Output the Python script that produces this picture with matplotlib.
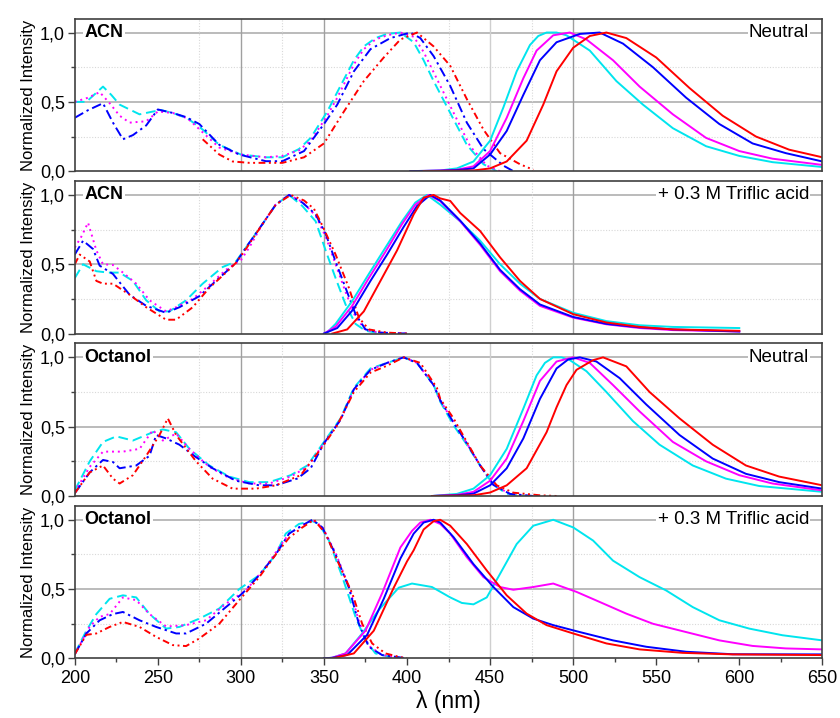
import matplotlib.pyplot as plt
from matplotlib.ticker import MultipleLocator, FuncFormatter

plt.rcParams['font.family'] = ['Liberation Sans', 'DejaVu Sans']

CYAN = '#00e5ee'
MAGENTA = '#ff00ff'
BLUE = '#0000ff'
RED = '#ff0000'

# ---- panel 1: ACN, neutral ----
acn_neu_abs_cyan_x = [200, 207, 217, 222, 227, 239, 247, 252, 259, 268, 277, 287, 300, 315, 325, 335, 342, 352, 358, 368, 374, 381, 388, 396, 404, 410, 416, 426, 436, 446, 454]
acn_neu_abs_cyan_y = [0.50, 0.50, 0.61, 0.55, 0.48, 0.41, 0.43, 0.44, 0.42, 0.38, 0.30, 0.19, 0.12, 0.10, 0.10, 0.16, 0.24, 0.43, 0.57, 0.80, 0.90, 0.96, 0.99, 1.0, 0.93, 0.80, 0.65, 0.42, 0.19, 0.05, 0.0]
acn_neu_abs_magenta_x = [200, 208, 215, 221, 227, 233, 243, 250, 259, 268, 277, 287, 300, 315, 325, 335, 342, 352, 358, 368, 374, 381, 388, 396, 404, 410, 426, 438, 448, 456]
acn_neu_abs_magenta_y = [0.50, 0.53, 0.57, 0.49, 0.40, 0.35, 0.36, 0.43, 0.42, 0.38, 0.28, 0.17, 0.12, 0.10, 0.11, 0.15, 0.22, 0.40, 0.53, 0.77, 0.88, 0.95, 0.98, 1.0, 0.97, 0.86, 0.47, 0.18, 0.04, 0.0]
acn_neu_abs_blue_x = [200, 208, 217, 223, 229, 235, 243, 250, 259, 267, 275, 287, 299, 315, 325, 338, 350, 358, 368, 378, 390, 402, 408, 416, 426, 436, 446, 458, 464]
acn_neu_abs_blue_y = [0.385, 0.44, 0.49, 0.35, 0.23, 0.26, 0.33, 0.445, 0.42, 0.39, 0.34, 0.19, 0.12, 0.072, 0.072, 0.145, 0.34, 0.48, 0.72, 0.88, 0.96, 1.0, 0.96, 0.83, 0.615, 0.35, 0.16, 0.04, 0.0]
acn_neu_abs_red_x = [277, 287, 295, 305, 325, 338, 350, 362, 374, 386, 396, 406, 416, 426, 436, 446, 456, 468, 476]
acn_neu_abs_red_y = [0.23, 0.12, 0.07, 0.06, 0.06, 0.10, 0.20, 0.43, 0.65, 0.82, 0.95, 1.0, 0.90, 0.76, 0.52, 0.30, 0.13, 0.05, 0.01]

acn_neu_em_cyan_x = [402, 420, 430, 440, 450, 458, 466, 474, 479, 484, 490, 496, 510, 526, 542, 560, 580, 600, 620, 650]
acn_neu_em_cyan_y = [0.0, 0.005, 0.02, 0.07, 0.22, 0.46, 0.72, 0.91, 0.975, 1.0, 1.0, 0.98, 0.87, 0.65, 0.48, 0.31, 0.18, 0.11, 0.065, 0.03]
acn_neu_em_magenta_x = [402, 420, 430, 440, 450, 460, 470, 478, 488, 498, 508, 524, 540, 560, 580, 600, 620, 650]
acn_neu_em_magenta_y = [0.0, 0.005, 0.01, 0.035, 0.145, 0.385, 0.67, 0.87, 0.98, 1.0, 0.95, 0.80, 0.61, 0.41, 0.24, 0.145, 0.09, 0.045]
acn_neu_em_blue_x = [402, 420, 430, 440, 450, 460, 470, 480, 490, 504, 516, 530, 548, 568, 588, 608, 628, 650]
acn_neu_em_blue_y = [0.0, 0.003, 0.008, 0.02, 0.12, 0.29, 0.55, 0.80, 0.93, 0.99, 1.0, 0.92, 0.75, 0.53, 0.34, 0.20, 0.13, 0.07]
acn_neu_em_red_x = [410, 440, 450, 460, 472, 482, 490, 500, 510, 520, 532, 550, 570, 590, 610, 630, 650]
acn_neu_em_red_y = [0.0, 0.005, 0.02, 0.07, 0.22, 0.48, 0.72, 0.89, 0.975, 1.0, 0.96, 0.82, 0.60, 0.40, 0.25, 0.155, 0.10]

# ---- panel 2: ACN + 0.3 M triflic acid ----
acn_acid_abs_cyan_x = [200, 205, 213, 220, 227, 235, 243, 251, 257, 267, 277, 289, 297, 303, 313, 321, 329, 337, 345, 351, 357, 363, 369, 375, 385]
acn_acid_abs_cyan_y = [0.40, 0.50, 0.45, 0.44, 0.44, 0.38, 0.24, 0.16, 0.16, 0.24, 0.36, 0.48, 0.52, 0.62, 0.79, 0.93, 1.0, 0.92, 0.81, 0.60, 0.40, 0.21, 0.07, 0.02, 0.0]
acn_acid_abs_magenta_x = [200, 204, 208, 213, 217, 223, 229, 237, 245, 255, 261, 271, 281, 291, 300, 305, 313, 321, 329, 337, 345, 351, 357, 363, 369, 375, 385, 400]
acn_acid_abs_magenta_y = [0.62, 0.70, 0.80, 0.60, 0.50, 0.495, 0.44, 0.36, 0.24, 0.16, 0.19, 0.25, 0.35, 0.46, 0.53, 0.62, 0.79, 0.93, 1.0, 0.95, 0.85, 0.70, 0.50, 0.30, 0.12, 0.025, 0.005, 0.0]
acn_acid_abs_blue_x = [200, 205, 211, 215, 223, 233, 243, 255, 263, 275, 285, 297, 303, 313, 321, 329, 337, 345, 351, 357, 363, 369, 375, 384, 400]
acn_acid_abs_blue_y = [0.57, 0.67, 0.61, 0.49, 0.43, 0.28, 0.20, 0.15, 0.19, 0.27, 0.38, 0.51, 0.62, 0.79, 0.93, 1.0, 0.945, 0.86, 0.72, 0.52, 0.33, 0.14, 0.03, 0.007, 0.0]
acn_acid_abs_red_x = [200, 203, 209, 213, 217, 223, 233, 243, 255, 261, 271, 281, 291, 297, 303, 313, 321, 330, 338, 344, 349, 357, 365, 371, 377, 388, 400]
acn_acid_abs_red_y = [0.50, 0.57, 0.52, 0.38, 0.36, 0.36, 0.28, 0.19, 0.10, 0.10, 0.19, 0.33, 0.44, 0.51, 0.61, 0.79, 0.93, 1.0, 0.96, 0.90, 0.78, 0.57, 0.33, 0.115, 0.03, 0.007, 0.0]

acn_acid_em_cyan_x = [350, 352, 357, 367, 377, 387, 397, 405, 412, 420, 432, 444, 456, 468, 480, 500, 520, 540, 560, 600]
acn_acid_em_cyan_y = [0.0, 0.01, 0.07, 0.235, 0.43, 0.62, 0.81, 0.945, 1.0, 0.93, 0.81, 0.67, 0.50, 0.36, 0.25, 0.15, 0.09, 0.06, 0.048, 0.04]
acn_acid_em_magenta_x = [350, 357, 367, 377, 387, 397, 405, 413, 420, 432, 444, 456, 468, 480, 500, 520, 540, 560, 600]
acn_acid_em_magenta_y = [0.0, 0.05, 0.20, 0.40, 0.59, 0.79, 0.93, 1.0, 0.955, 0.81, 0.64, 0.45, 0.31, 0.20, 0.115, 0.067, 0.04, 0.025, 0.015]
acn_acid_em_blue_x = [350, 358, 368, 378, 388, 398, 406, 414, 420, 432, 444, 456, 468, 480, 500, 520, 540, 560, 600]
acn_acid_em_blue_y = [0.0, 0.04, 0.18, 0.38, 0.57, 0.77, 0.92, 1.0, 0.96, 0.815, 0.65, 0.46, 0.32, 0.21, 0.12, 0.07, 0.045, 0.03, 0.015]
acn_acid_em_red_x = [355, 364, 374, 384, 394, 404, 410, 416, 420, 426, 432, 444, 456, 468, 480, 500, 520, 540, 560, 600]
acn_acid_em_red_y = [0.0, 0.03, 0.16, 0.38, 0.60, 0.86, 0.98, 1.0, 0.975, 0.957, 0.87, 0.74, 0.55, 0.38, 0.25, 0.14, 0.08, 0.048, 0.03, 0.02]

# ---- panel 3: octanol, neutral ----
oct_neu_abs_cyan_x = [200, 209, 217, 225, 235, 247, 253, 261, 269, 281, 293, 305, 317, 330, 340, 350, 360, 368, 378, 388, 398, 406, 416, 420, 428, 436, 444, 452, 460, 472]
oct_neu_abs_cyan_y = [0.04, 0.25, 0.39, 0.43, 0.40, 0.46, 0.48, 0.46, 0.34, 0.22, 0.14, 0.10, 0.10, 0.15, 0.22, 0.39, 0.56, 0.78, 0.92, 0.96, 1.0, 0.96, 0.80, 0.68, 0.51, 0.37, 0.22, 0.08, 0.017, 0.0]
oct_neu_abs_magenta_x = [200, 209, 217, 229, 239, 247, 253, 261, 269, 281, 293, 305, 317, 330, 340, 350, 360, 368, 378, 388, 398, 406, 416, 420, 428, 436, 444, 452, 462, 474]
oct_neu_abs_magenta_y = [0.03, 0.21, 0.32, 0.32, 0.34, 0.475, 0.40, 0.45, 0.34, 0.21, 0.13, 0.09, 0.09, 0.14, 0.21, 0.38, 0.55, 0.77, 0.91, 0.96, 1.0, 0.96, 0.80, 0.69, 0.53, 0.38, 0.22, 0.08, 0.015, 0.0]
oct_neu_abs_blue_x = [200, 209, 217, 223, 227, 237, 245, 249, 255, 263, 273, 283, 297, 311, 321, 334, 342, 350, 360, 368, 378, 388, 398, 406, 416, 420, 428, 436, 444, 452, 462, 476]
oct_neu_abs_blue_y = [0.02, 0.17, 0.26, 0.245, 0.20, 0.22, 0.29, 0.44, 0.415, 0.37, 0.28, 0.20, 0.11, 0.077, 0.077, 0.126, 0.20, 0.38, 0.55, 0.77, 0.91, 0.96, 1.0, 0.96, 0.80, 0.69, 0.53, 0.38, 0.22, 0.08, 0.015, 0.0]
oct_neu_abs_red_x = [200, 209, 217, 223, 227, 235, 243, 251, 256, 261, 273, 283, 295, 309, 321, 336, 350, 358, 368, 378, 388, 398, 408, 418, 420, 428, 436, 444, 454, 464, 480, 490]
oct_neu_abs_red_y = [0.02, 0.17, 0.22, 0.125, 0.09, 0.15, 0.29, 0.44, 0.56, 0.44, 0.25, 0.125, 0.053, 0.053, 0.077, 0.15, 0.37, 0.51, 0.75, 0.89, 0.94, 1.0, 0.96, 0.78, 0.70, 0.56, 0.39, 0.22, 0.077, 0.024, 0.005, 0.0]

oct_neu_em_cyan_x = [415, 430, 440, 450, 460, 470, 478, 483, 488, 493, 498, 508, 520, 536, 552, 572, 592, 612, 650]
oct_neu_em_cyan_y = [0.0, 0.015, 0.053, 0.15, 0.34, 0.63, 0.87, 0.96, 1.0, 1.0, 0.98, 0.90, 0.75, 0.54, 0.37, 0.22, 0.125, 0.072, 0.03]
oct_neu_em_magenta_x = [415, 430, 440, 450, 460, 470, 480, 490, 500, 510, 524, 540, 560, 580, 600, 620, 650]
oct_neu_em_magenta_y = [0.0, 0.008, 0.03, 0.11, 0.27, 0.54, 0.83, 0.97, 1.0, 0.96, 0.80, 0.61, 0.39, 0.25, 0.15, 0.09, 0.04]
oct_neu_em_blue_x = [415, 430, 440, 450, 460, 470, 480, 490, 497, 504, 514, 528, 544, 564, 584, 604, 624, 650]
oct_neu_em_blue_y = [0.0, 0.005, 0.017, 0.077, 0.20, 0.415, 0.70, 0.92, 0.985, 1.0, 0.97, 0.85, 0.66, 0.44, 0.27, 0.16, 0.10, 0.053]
oct_neu_em_red_x = [415, 440, 450, 460, 472, 484, 490, 496, 502, 512, 518, 532, 546, 564, 584, 604, 624, 650]
oct_neu_em_red_y = [0.0, 0.005, 0.025, 0.077, 0.20, 0.46, 0.64, 0.80, 0.91, 0.98, 1.0, 0.935, 0.75, 0.56, 0.37, 0.22, 0.14, 0.077]

# ---- panel 4: octanol + 0.3 M triflic acid ----
oct_acid_abs_cyan_x = [200, 207, 213, 221, 229, 237, 245, 255, 263, 275, 287, 299, 311, 321, 327, 335, 343, 347, 353, 361, 369, 375, 381, 390, 395]
oct_acid_abs_cyan_y = [0.036, 0.20, 0.32, 0.43, 0.455, 0.44, 0.32, 0.215, 0.227, 0.287, 0.36, 0.50, 0.60, 0.75, 0.90, 0.97, 0.99, 0.97, 0.85, 0.59, 0.30, 0.13, 0.036, 0.01, 0.0]
oct_acid_abs_magenta_x = [200, 209, 215, 221, 229, 237, 245, 255, 267, 279, 291, 303, 315, 323, 329, 337, 343, 349, 357, 365, 371, 377, 385, 396, 400]
oct_acid_abs_magenta_y = [0.03, 0.23, 0.30, 0.32, 0.44, 0.42, 0.32, 0.23, 0.24, 0.275, 0.395, 0.49, 0.66, 0.80, 0.90, 0.96, 1.0, 0.95, 0.76, 0.52, 0.27, 0.09, 0.025, 0.005, 0.0]
oct_acid_abs_blue_x = [200, 207, 215, 223, 229, 239, 249, 261, 267, 279, 291, 301, 311, 321, 329, 337, 343, 349, 357, 365, 371, 377, 385, 396, 400]
oct_acid_abs_blue_y = [0.03, 0.18, 0.275, 0.32, 0.335, 0.275, 0.227, 0.18, 0.18, 0.25, 0.37, 0.47, 0.60, 0.75, 0.90, 0.96, 1.0, 0.945, 0.75, 0.51, 0.25, 0.084, 0.024, 0.007, 0.0]
oct_acid_abs_red_x = [200, 207, 213, 221, 229, 239, 249, 259, 267, 275, 287, 299, 311, 321, 329, 337, 344, 351, 359, 367, 373, 379, 387, 395, 400]
oct_acid_abs_red_y = [0.03, 0.17, 0.18, 0.227, 0.263, 0.227, 0.155, 0.096, 0.089, 0.144, 0.25, 0.42, 0.586, 0.75, 0.87, 0.945, 1.0, 0.90, 0.68, 0.47, 0.25, 0.108, 0.036, 0.012, 0.0]

oct_acid_em_cyan_x = [350, 355, 363, 373, 383, 395, 403, 415, 426, 433, 440, 448, 456, 466, 476, 488, 500, 512, 524, 540, 556, 572, 588, 606, 626, 650]
oct_acid_em_cyan_y = [0.0, 0.005, 0.036, 0.18, 0.35, 0.51, 0.54, 0.515, 0.44, 0.40, 0.39, 0.44, 0.61, 0.825, 0.957, 1.0, 0.945, 0.85, 0.705, 0.586, 0.49, 0.37, 0.275, 0.215, 0.167, 0.13]
oct_acid_em_magenta_x = [350, 355, 363, 375, 385, 396, 403, 408, 414, 420, 426, 436, 446, 456, 464, 476, 488, 502, 516, 532, 548, 568, 588, 608, 628, 650]
oct_acid_em_magenta_y = [0.0, 0.005, 0.036, 0.20, 0.47, 0.80, 0.92, 0.98, 1.0, 0.97, 0.90, 0.73, 0.586, 0.515, 0.495, 0.515, 0.54, 0.48, 0.407, 0.323, 0.25, 0.19, 0.13, 0.09, 0.072, 0.065]
oct_acid_em_blue_x = [350, 355, 364, 376, 386, 396, 404, 410, 416, 420, 428, 440, 452, 464, 476, 488, 504, 524, 544, 568, 596, 650]
oct_acid_em_blue_y = [0.0, 0.004, 0.025, 0.17, 0.43, 0.72, 0.90, 0.98, 1.0, 0.98, 0.875, 0.68, 0.515, 0.37, 0.287, 0.24, 0.19, 0.13, 0.084, 0.048, 0.03, 0.029]
oct_acid_em_red_x = [355, 368, 380, 392, 400, 404, 410, 416, 420, 426, 436, 448, 460, 472, 484, 500, 520, 540, 566, 596, 650]
oct_acid_em_red_y = [0.0, 0.036, 0.20, 0.51, 0.70, 0.78, 0.93, 0.99, 1.0, 0.957, 0.825, 0.634, 0.455, 0.323, 0.24, 0.18, 0.108, 0.065, 0.04, 0.029, 0.024]

solvents = ['ACN', 'ACN', 'Octanol', 'Octanol']
conditions = ['Neutral', '+ 0.3 M Triflic acid', 'Neutral', '+ 0.3 M Triflic acid']

abs_data = [
    [(acn_neu_abs_cyan_x, acn_neu_abs_cyan_y), (acn_neu_abs_magenta_x, acn_neu_abs_magenta_y),
     (acn_neu_abs_blue_x, acn_neu_abs_blue_y), (acn_neu_abs_red_x, acn_neu_abs_red_y)],
    [(acn_acid_abs_cyan_x, acn_acid_abs_cyan_y), (acn_acid_abs_magenta_x, acn_acid_abs_magenta_y),
     (acn_acid_abs_blue_x, acn_acid_abs_blue_y), (acn_acid_abs_red_x, acn_acid_abs_red_y)],
    [(oct_neu_abs_cyan_x, oct_neu_abs_cyan_y), (oct_neu_abs_magenta_x, oct_neu_abs_magenta_y),
     (oct_neu_abs_blue_x, oct_neu_abs_blue_y), (oct_neu_abs_red_x, oct_neu_abs_red_y)],
    [(oct_acid_abs_cyan_x, oct_acid_abs_cyan_y), (oct_acid_abs_magenta_x, oct_acid_abs_magenta_y),
     (oct_acid_abs_blue_x, oct_acid_abs_blue_y), (oct_acid_abs_red_x, oct_acid_abs_red_y)],
]
em_data = [
    [(acn_neu_em_cyan_x, acn_neu_em_cyan_y), (acn_neu_em_magenta_x, acn_neu_em_magenta_y),
     (acn_neu_em_blue_x, acn_neu_em_blue_y), (acn_neu_em_red_x, acn_neu_em_red_y)],
    [(acn_acid_em_cyan_x, acn_acid_em_cyan_y), (acn_acid_em_magenta_x, acn_acid_em_magenta_y),
     (acn_acid_em_blue_x, acn_acid_em_blue_y), (acn_acid_em_red_x, acn_acid_em_red_y)],
    [(oct_neu_em_cyan_x, oct_neu_em_cyan_y), (oct_neu_em_magenta_x, oct_neu_em_magenta_y),
     (oct_neu_em_blue_x, oct_neu_em_blue_y), (oct_neu_em_red_x, oct_neu_em_red_y)],
    [(oct_acid_em_cyan_x, oct_acid_em_cyan_y), (oct_acid_em_magenta_x, oct_acid_em_magenta_y),
     (oct_acid_em_blue_x, oct_acid_em_blue_y), (oct_acid_em_red_x, oct_acid_em_red_y)],
]

colors = [CYAN, MAGENTA, BLUE, RED]
abs_dashes = [(5, 2.5), (1, 2), (5, 2, 1.2, 2), (3.5, 1.8, 1, 1.8, 1, 1.8)]


def comma_fmt(v, pos):
    return ('%.1f' % v).replace('.', ',')


fig, axes = plt.subplots(4, 1, sharex=True, figsize=(8.4, 7.18), dpi=100)
fig.subplots_adjust(left=0.089, right=0.979, top=0.974, bottom=0.083, hspace=0.065)

for i, ax in enumerate(axes):
    # grid, as in the original Origin plot
    for yv in (0.5, 1.0):
        ax.axhline(yv, color='#a8a8a8', lw=1.1, zorder=0)
    for yv in (0.25, 0.75):
        ax.axhline(yv, color='#d8d8d8', lw=0.8, ls=(0, (1, 1.5)), zorder=0)
    for xv in (300, 350, 500):
        ax.axvline(xv, color='#a0a0a0', lw=1.0, zorder=0)
    ax.axvline(450, color='#cfcfcf', lw=1.0, zorder=0)
    for xv in (275, 325, 425, 475):
        ax.axvline(xv, color='#d8d8d8', lw=0.8, ls=(0, (1, 1.5)), zorder=0)

    for (x, y), c, d in zip(abs_data[i], colors, abs_dashes):
        ax.plot(x, y, color=c, lw=1.4, dashes=d)
    for (x, y), c in zip(em_data[i], colors):
        ax.plot(x, y, color=c, lw=1.4)

    ax.set_xlim(200, 650)
    ax.set_ylim(0, 1.1)
    ax.yaxis.set_major_locator(MultipleLocator(0.5))
    ax.yaxis.set_minor_locator(MultipleLocator(0.25))
    ax.yaxis.set_major_formatter(FuncFormatter(comma_fmt))
    ax.xaxis.set_major_locator(MultipleLocator(50))
    ax.xaxis.set_minor_locator(MultipleLocator(25))
    ax.tick_params(axis='y', which='major', direction='out', length=5, width=1, labelsize=13, color='#404040', pad=2)
    ax.tick_params(axis='y', which='minor', direction='out', length=3, width=1, color='#404040')
    ax.tick_params(axis='x', which='both', bottom=(i == 3), direction='out', width=1, color='#404040', labelsize=13)
    ax.tick_params(axis='x', which='major', length=5)
    ax.tick_params(axis='x', which='minor', length=3)
    for s in ax.spines.values():
        s.set_color('#404040')
        s.set_linewidth(1.2)
    ax.set_ylabel('Normalized Intensity', fontsize=12, labelpad=3)

    box = dict(facecolor='white', edgecolor='none', pad=1.0)
    ax.text(206, 1.0, solvents[i], fontsize=13, fontweight='bold', va='center', ha='left', bbox=box)
    ax.text(642, 1.0, conditions[i], fontsize=13.5, va='center', ha='right', bbox=box)

axes[-1].set_xlabel('λ (nm)', fontsize=16.5, labelpad=2)
fig.align_ylabels(axes)

plt.savefig('out.png', dpi=100)
